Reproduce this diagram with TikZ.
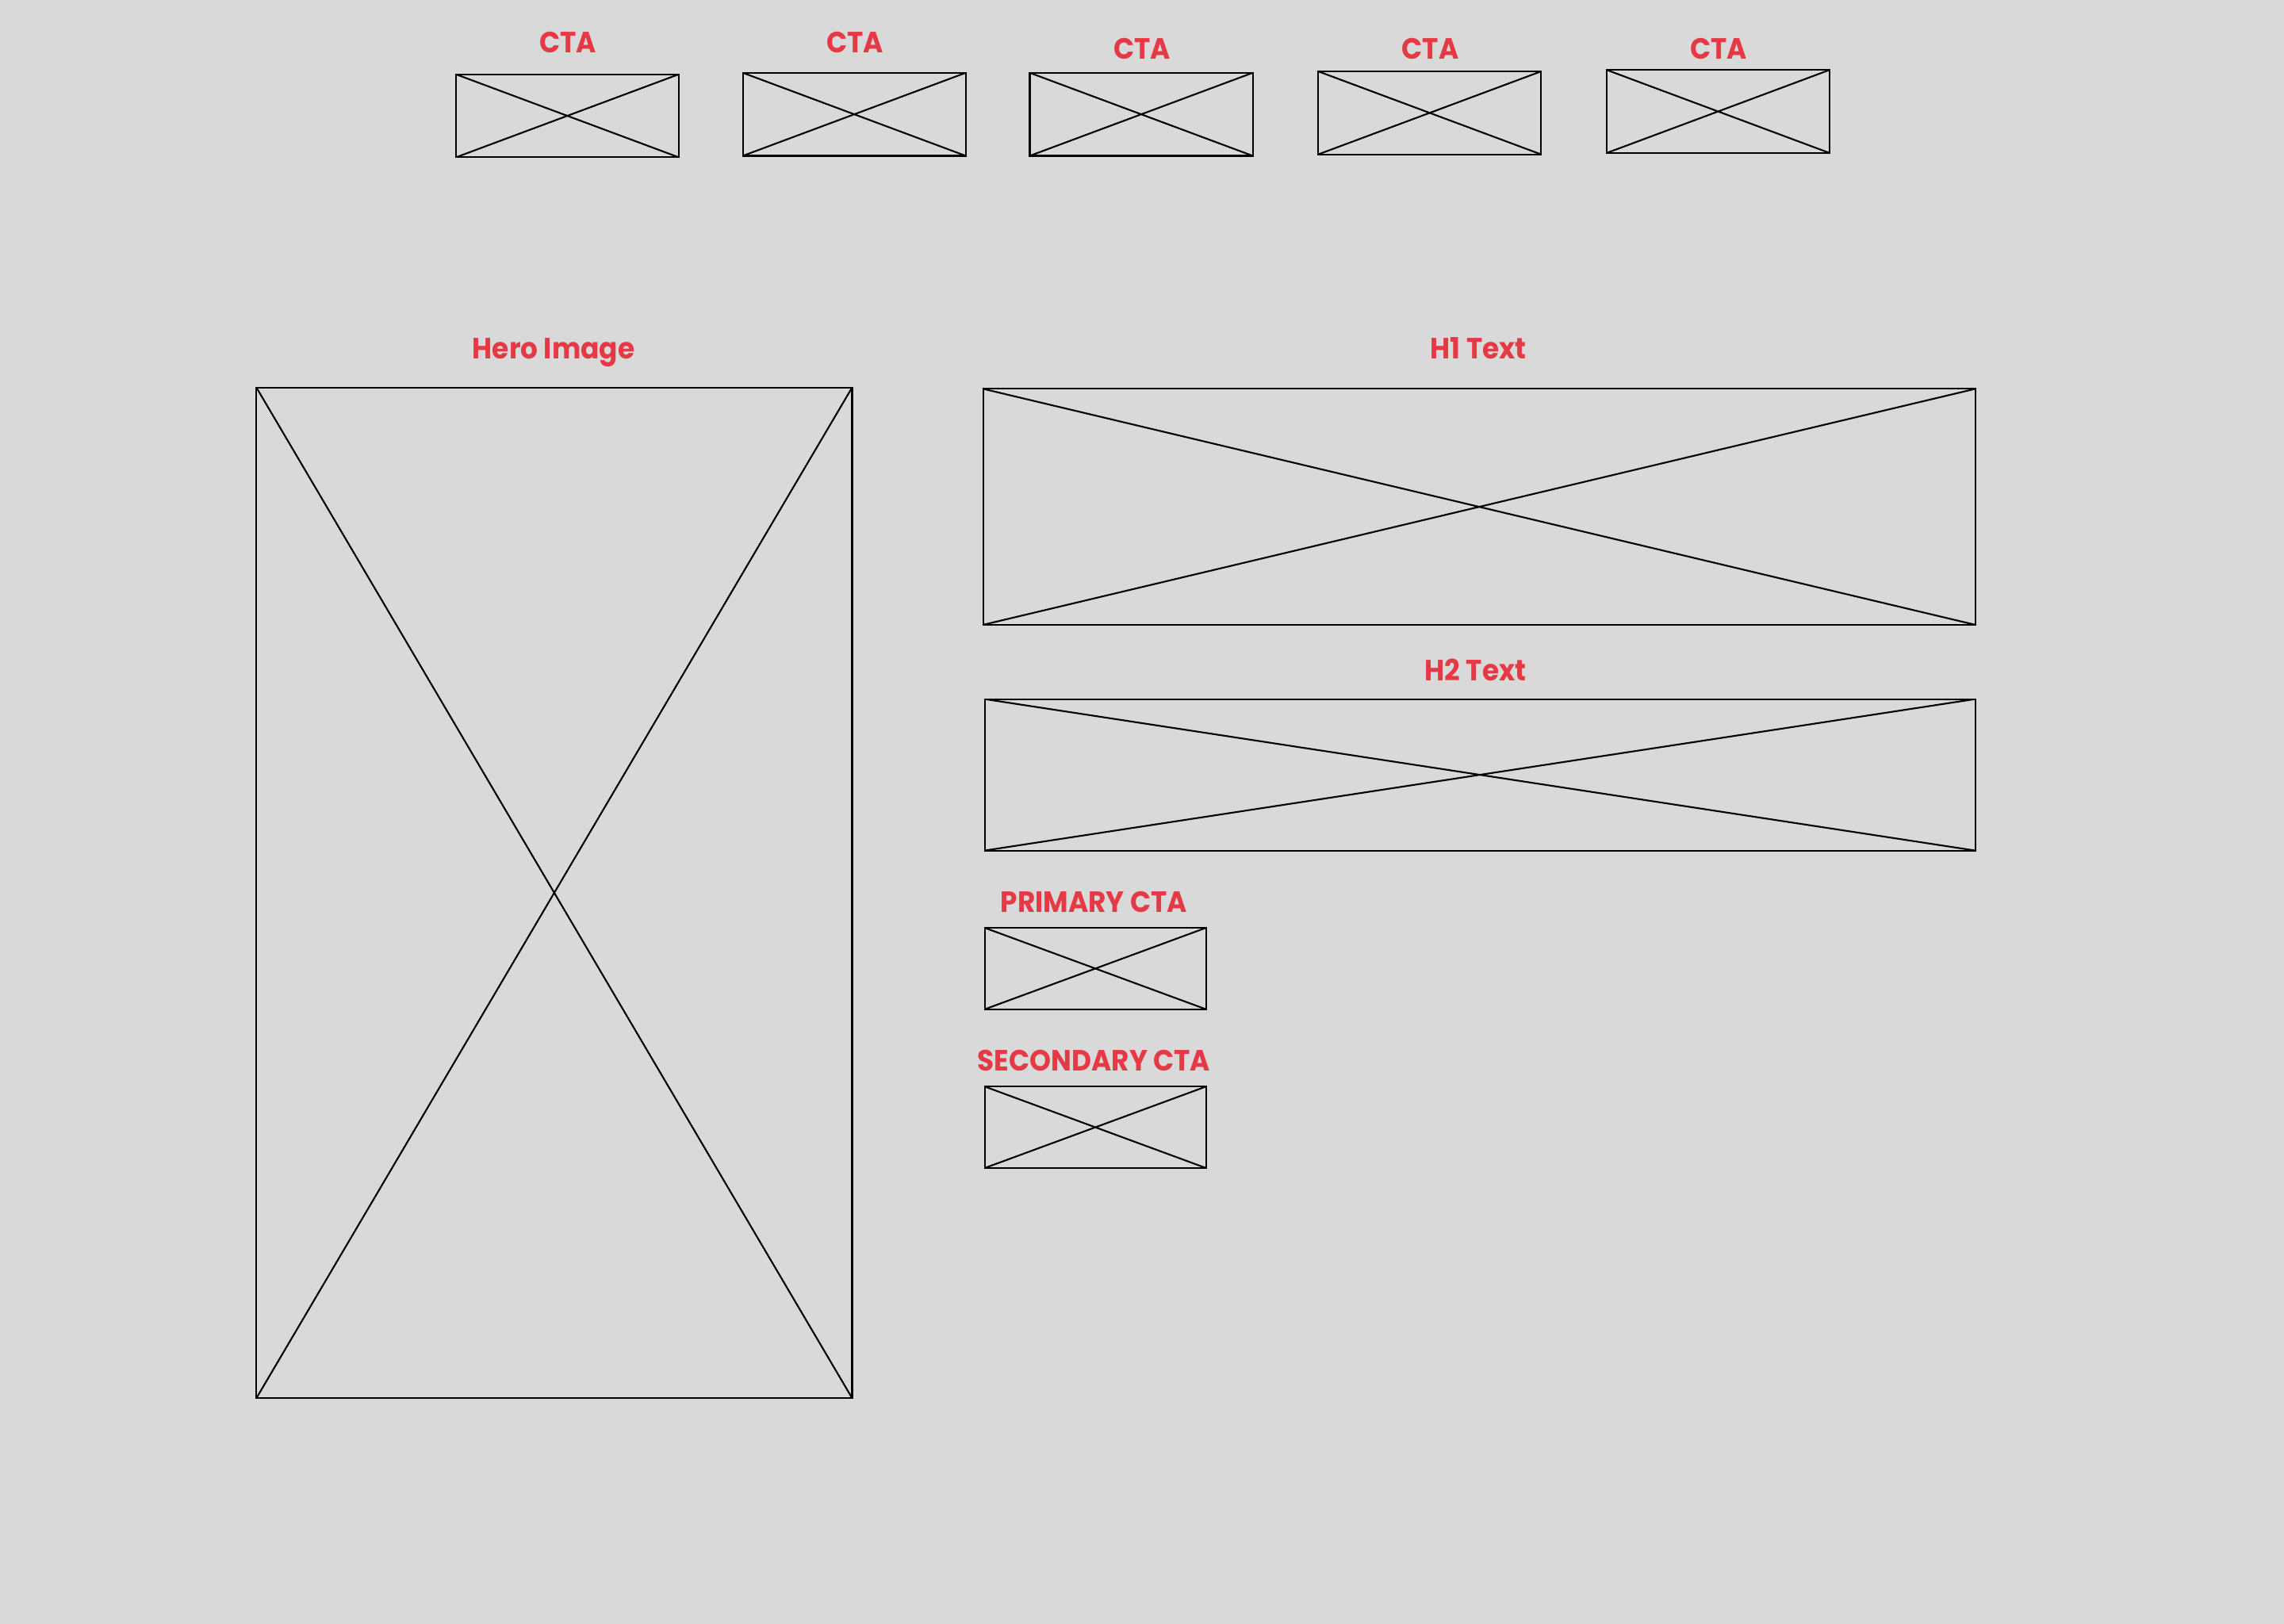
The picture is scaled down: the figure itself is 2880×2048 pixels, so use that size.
\documentclass[tikz,border=0pt]{standalone}
\usepackage{fontspec}
\setmainfont{Poppins}[FakeStretch=0.93]
\usetikzlibrary{fit}
\definecolor{bg}{RGB}{217,217,217}
\definecolor{lab}{RGB}{230,57,70}
\tikzset{
  xbox/.style={draw=black, line width=0.6pt, inner sep=0pt, outer sep=0pt,
    path picture={\draw[line width=0.6pt] (path picture bounding box.north west) -- (path picture bounding box.south east)
      (path picture bounding box.south west) -- (path picture bounding box.north east);}},
  lbl/.style={text=lab, font=\fontsize{10.5}{13}\selectfont\bfseries, anchor=base, inner sep=0pt}
}
\begin{document}
\begin{tikzpicture}[x=0.01cm,y=-0.01cm]
\fill[bg] (0,0) rectangle (2880,2048);
\useasboundingbox (0,0) rectangle (2880,2048);
% top CTAs
\node[xbox, fit={(574.9,93.7)(855.9,198.4)}] (cta1) {};
\node[xbox, fit={(936.7,91.8)(1217.7,196.5)}] (cta2) {};
\node[xbox, fit={(1298.5,91.8)(1579.6,196.5)}] (cta3) {};
\node[xbox, fit={(1662.2,90)(1943.3,194.7)}] (cta4) {};
\node[xbox, fit={(2026,88.2)(2306.9,192.9)}] (cta5) {};
\node[lbl] (l1) at (716.3,66.8) {CTA};
\node[lbl] (l2) at (1078.1,66.8) {CTA};
\node[lbl] (l3) at (1440,74) {CTA};
\node[lbl] (l4) at (1803.6,74) {CTA};
\node[lbl] (l5) at (2167.3,74) {CTA};
% hero
\node[xbox, fit={(323.3,488.6)(1074.5,1763.2)}] (hero) {};
\node[lbl] (lhero) at (698,452.5) {Hero Image};
% H1
\node[xbox, fit={(1239.8,490.4)(2490.6,787.9)}] (h1) {};
\node[lbl] (lh1) at (1864.3,452.5) {H1 Text};
% H2
\node[xbox, fit={(1241.6,881.6)(2490.6,1072.6)}] (h2) {};
\node[lbl] (lh2) at (1860.6,858.4) {H2 Text};
% primary / secondary
\node[xbox, fit={(1241.6,1170)(1520.8,1272.8)}] (prim) {};
\node[lbl] (lprim) at (1379.4,1150.4) {PRIMARY CTA};
\node[xbox, fit={(1241.6,1370.2)(1520.8,1473)}] (sec) {};
\node[lbl] (lsec) at (1379.4,1350.6) {SECONDARY CTA};
\end{tikzpicture}
\end{document}
